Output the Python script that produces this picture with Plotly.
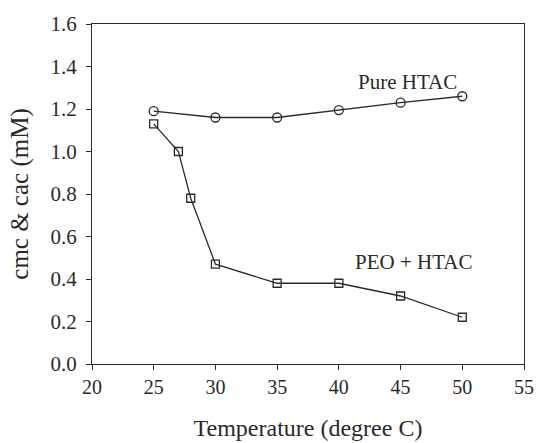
import plotly.graph_objects as go

pure_x = [25, 30, 35, 40, 45, 50]
pure_y = [1.19, 1.16, 1.16, 1.195, 1.23, 1.26]
peo_x = [25, 27, 28, 30, 35, 40, 45, 50]
peo_y = [1.13, 1.0, 0.78, 0.47, 0.38, 0.38, 0.32, 0.22]

x_ticks = [20, 25, 30, 35, 40, 45, 50, 55]
y_ticks = [0.0, 0.2, 0.4, 0.6, 0.8, 1.0, 1.2, 1.4, 1.6]

FONT = "Liberation Serif"
C = "#2a2a2a"

fig = go.Figure()
fig.add_trace(go.Scatter(
    x=pure_x, y=pure_y, mode="lines+markers",
    line=dict(color=C, width=1.3),
    marker=dict(symbol="circle-open", size=9, color=C, line=dict(width=1.3, color=C)),
    showlegend=False, cliponaxis=False))
fig.add_trace(go.Scatter(
    x=peo_x, y=peo_y, mode="lines+markers",
    line=dict(color=C, width=1.3),
    marker=dict(symbol="square-open", size=8, color=C, line=dict(width=1.3, color=C)),
    showlegend=False, cliponaxis=False))

fig.add_annotation(x=45.55, y=1.325, text="Pure HTAC", showarrow=False,
                   font=dict(family=FONT, size=21, color=C))
fig.add_annotation(x=46.05, y=0.48, text="PEO + HTAC", showarrow=False,
                   font=dict(family=FONT, size=21, color=C))

fig.update_xaxes(range=[20, 55], tickvals=x_ticks, ticktext=[str(v) for v in x_ticks],
                 showgrid=False, zeroline=False, showline=True, linecolor=C, linewidth=1.3,
                 mirror=True, ticks="outside", ticklen=5, tickcolor=C, tickwidth=1.3,
                 automargin=False,
                 tickfont=dict(family=FONT, size=20, color=C),
                 title=dict(text="Temperature (degree C)", font=dict(family=FONT, size=24, color=C), standoff=22))
fig.update_yaxes(range=[0, 1.6], tickvals=y_ticks, ticktext=[f"{v:.1f}" for v in y_ticks],
                 showgrid=False, zeroline=False, showline=True, linecolor=C, linewidth=1.3,
                 mirror=True, ticks="outside", ticklen=5, tickcolor=C, tickwidth=1.3,
                 ticklabelstandoff=5, automargin=False,
                 tickfont=dict(family=FONT, size=21, color=C),
                 title=dict(text="cmc & cac (mM)", font=dict(family=FONT, size=25, color=C), standoff=14))

fig.update_layout(width=537, height=443, margin=dict(l=92, r=13, t=24, b=79),
                  plot_bgcolor="white", paper_bgcolor="white")

fig.write_html("out.html")
